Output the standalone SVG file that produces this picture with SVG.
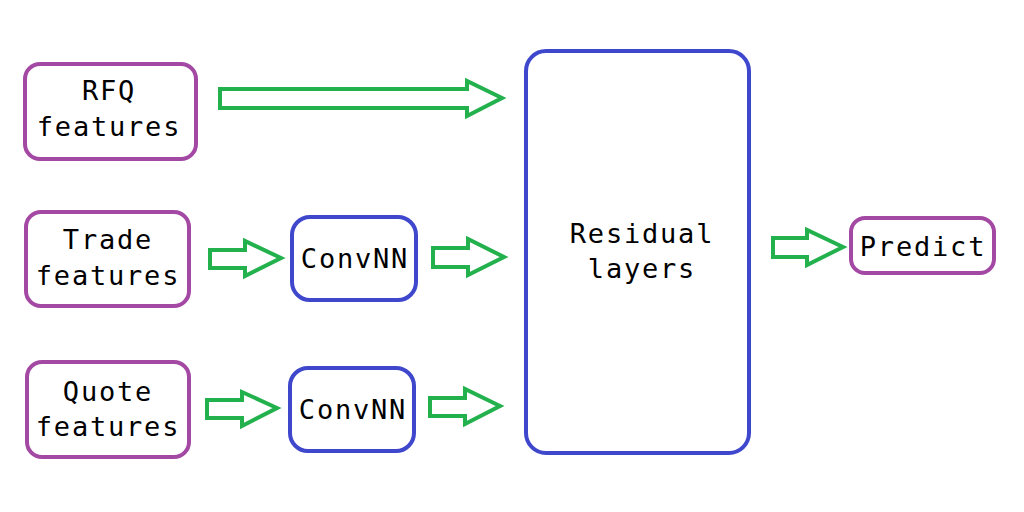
<svg xmlns="http://www.w3.org/2000/svg" width="1024" height="512" viewBox="0 0 1024 512">
<style>
.in{fill:#fff;stroke:#A349A4;stroke-width:4}
.nn{fill:#fff;stroke:#3F48CC;stroke-width:4}
.ar{fill:#fff;stroke:#22B14C;stroke-width:4;stroke-linejoin:miter}
text{font-family:"DejaVu Sans Mono","Liberation Mono",monospace;font-size:27px;letter-spacing:1.8px;fill:#000;text-anchor:middle}
</style>
<rect width="1024" height="512" fill="#fff"/>
<g id="rfq"><rect class="in" x="25" y="64" width="171" height="95" rx="15"/><text x="109" y="100">RFQ</text><text x="109" y="136">features</text></g>
<g id="trade"><rect class="in" x="26" y="212" width="163" height="94" rx="15"/><text x="108" y="249">Trade</text><text x="108" y="285">features</text></g>
<g id="quote"><rect class="in" x="27" y="362" width="162" height="95" rx="15"/><text x="108" y="401">Quote</text><text x="108" y="436">features</text></g>
<g id="conv1"><rect class="nn" x="292" y="217" width="124" height="83" rx="18"/><text x="355" y="268">ConvNN</text></g>
<g id="conv2"><rect class="nn" x="290" y="368" width="124" height="83" rx="18"/><text x="353" y="419">ConvNN</text></g>
<g id="residual"><rect class="nn" x="526" y="51" width="223" height="402" rx="20"/><text x="642" y="243">Residual</text><text x="642" y="278">layers</text></g>
<g id="predict"><rect class="in" x="851" y="218" width="143" height="55" rx="14"/><text x="923" y="256">Predict</text></g>
<g id="connectors">
<polygon class="ar" points="220,89 467,89 467,81 502,98 467,116 467,108 220,108"/>
<polygon class="ar" points="210,250 245,250 245,241 281,258 245,276 245,268 210,268"/>
<polygon class="ar" points="433,248 468,248 468,239 504,257 468,275 468,267 433,267"/>
<polygon class="ar" points="207,400 242,400 242,392 277,408 242,426 242,418 207,418"/>
<polygon class="ar" points="430,398 465,398 465,389 500,406 465,424 465,416 430,416"/>
<polygon class="ar" points="773,238 807,238 807,230 843,247 807,265 807,257 773,257"/>
</g>
</svg>
